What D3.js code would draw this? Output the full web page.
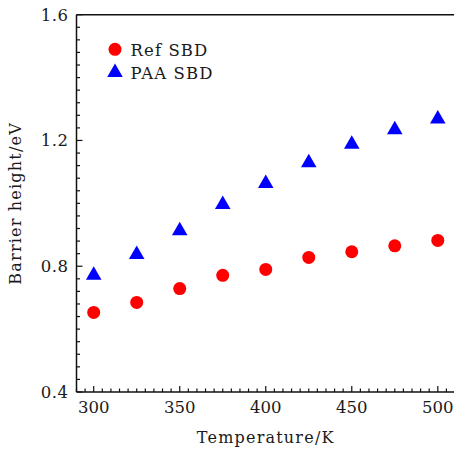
<!DOCTYPE html>
<html>
<head>
<meta charset="utf-8">
<script src="https://cdn.jsdelivr.net/npm/d3@7"></script>
<style>
  html, body { margin: 0; padding: 0; background: #fff; }
  svg { display: block; }
  text { font-family: "DejaVu Serif", serif; fill: #1a1a1a; }
</style>
</head>
<body>
<svg id="chart" width="454" height="449"></svg>
<script>
const temperatures = [300, 325, 350, 375, 400, 425, 450, 475, 500];
const refSBD = [0.653, 0.685, 0.729, 0.771, 0.790, 0.828, 0.846, 0.865, 0.882];
const paaSBD = [0.771, 0.837, 0.913, 0.996, 1.063, 1.129, 1.188, 1.234, 1.268];
const xTicks = [300, 350, 400, 450, 500];
const yTicks = [0.4, 0.8, 1.2, 1.6];
const seriesNames = ["Ref SBD", "PAA SBD"];

const svg = d3.select("#chart");
const L = 76.5, R = 455, T = 14.7, B = 392;

const x = d3.scaleLinear().domain([290, 510]).range([L, R]);
const y = d3.scaleLinear().domain([0.4, 1.6]).range([B, T]);

const axisColor = "#111";

const xMinor = d3.range(290, 511, 5).filter(v => v % 50 !== 0);
const yMinor = d3.range(0, 31).map(i => +(0.4 + i * 0.04).toFixed(2)).filter(v => !yTicks.some(t => Math.abs(t - v) < 1e-6));

const g = svg.append("g");

g.selectAll(".xminor").data(xMinor).enter().append("line")
  .attr("x1", d => x(d)).attr("x2", d => x(d))
  .attr("y1", B).attr("y2", B - 3.5)
  .attr("stroke", axisColor).attr("stroke-width", 1.2);
g.selectAll(".xmajor").data(xTicks).enter().append("line")
  .attr("x1", d => x(d)).attr("x2", d => x(d))
  .attr("y1", B).attr("y2", B - 6)
  .attr("stroke", axisColor).attr("stroke-width", 1.2);
g.selectAll(".yminor").data(yMinor).enter().append("line")
  .attr("x1", L).attr("x2", L + 3.5)
  .attr("y1", d => y(d)).attr("y2", d => y(d))
  .attr("stroke", axisColor).attr("stroke-width", 1.2);
g.selectAll(".ymajor").data(yTicks).enter().append("line")
  .attr("x1", L).attr("x2", L + 6)
  .attr("y1", d => y(d)).attr("y2", d => y(d))
  .attr("stroke", axisColor).attr("stroke-width", 1.2);

g.append("line").attr("x1", L).attr("x2", L).attr("y1", T).attr("y2", B)
  .attr("stroke", axisColor).attr("stroke-width", 1.5);
g.append("line").attr("x1", L).attr("x2", R).attr("y1", B).attr("y2", B)
  .attr("stroke", axisColor).attr("stroke-width", 1.5);
g.append("line").attr("x1", L).attr("x2", R).attr("y1", T).attr("y2", T)
  .attr("stroke", axisColor).attr("stroke-width", 1.5);

g.selectAll(".xl").data(xTicks).enter().append("text")
  .attr("x", d => x(d)).attr("y", B + 21)
  .attr("text-anchor", "middle").attr("font-size", 16.5)
  .text(d => d);
g.selectAll(".yl").data(yTicks).enter().append("text")
  .attr("x", L - 8).attr("y", d => y(d) + 6)
  .attr("text-anchor", "end").attr("font-size", 16.5)
  .attr("letter-spacing", 0.5)
  .text(d => d.toFixed(1));

g.append("text").attr("x", (L + R) / 2).attr("y", 443)
  .attr("text-anchor", "middle").attr("font-size", 16)
  .attr("letter-spacing", 1.2)
  .text("Temperature/K");
g.append("text").attr("transform", `translate(21, ${(T + B) / 2}) rotate(-90)`)
  .attr("text-anchor", "middle").attr("font-size", 16)
  .attr("letter-spacing", 1.2)
  .text("Barrier height/eV");

const tri = d3.symbol().type(d3.symbolTriangle).size(105);
g.selectAll(".ref").data(temperatures).enter().append("circle")
  .attr("cx", d => x(d)).attr("cy", (d, i) => y(refSBD[i]))
  .attr("r", 6.5).attr("fill", "#ff0000");
g.selectAll(".paa").data(temperatures).enter().append("path")
  .attr("d", tri)
  .attr("transform", (d, i) => `translate(${x(d)}, ${y(paaSBD[i])})`)
  .attr("fill", "#0000ff");

const leg = g.append("g");
leg.append("circle").attr("cx", 115).attr("cy", 49.3).attr("r", 6.5).attr("fill", "#ff0000");
leg.append("path").attr("d", tri).attr("transform", "translate(115, 72.5)").attr("fill", "#0000ff");
leg.append("text").attr("x", 130.5).attr("y", 55.5).attr("font-size", 16.5).attr("letter-spacing", 1.1).text(seriesNames[0]);
leg.append("text").attr("x", 130.5).attr("y", 79).attr("font-size", 16.5).attr("letter-spacing", 1.1).text(seriesNames[1]);
</script>
</body>
</html>
